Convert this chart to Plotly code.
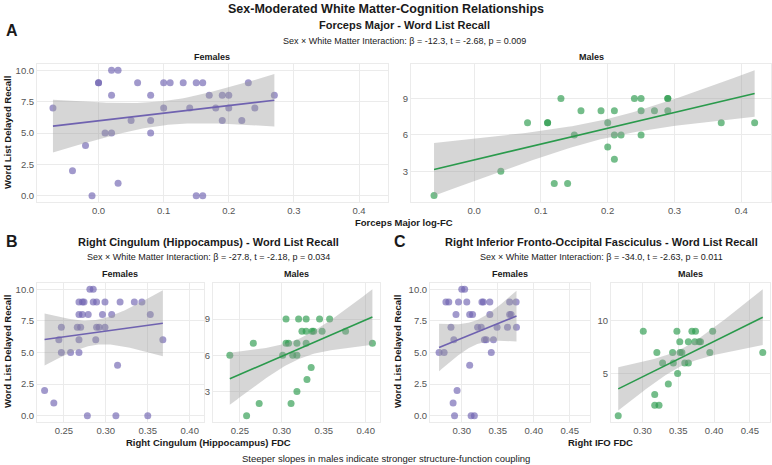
import numpy as np
import plotly.graph_objects as go

W, H = 772, 465

# ---------------- data ----------------
# Panel A: Forceps Major log-FC vs Word List Delayed Recall
a_f_x = [-0.07, -0.04, -0.02, -0.01, 0.00, 0.00, 0.01, 0.02, 0.02, 0.02, 0.03, 0.03, 0.05, 0.06,
         0.08, 0.08, 0.08, 0.10, 0.10, 0.11, 0.13, 0.14, 0.15, 0.15, 0.16, 0.16, 0.17, 0.18, 0.19,
         0.19, 0.20, 0.20, 0.22, 0.23, 0.24, 0.27]
a_f_y = [7, 2, 4, 0, 9, 9, 5, 5, 8, 10, 1, 10, 6, 9, 8, 6, 5, 9, 7, 9, 9, 7, 9, 0, 9, 0, 8, 7, 8,
         6, 8, 7, 6, 9, 7, 8]
a_m_x = [-0.06, 0.04, 0.08, 0.11, 0.11, 0.12, 0.13, 0.14, 0.15, 0.16, 0.19, 0.20, 0.20, 0.21,
         0.21, 0.21, 0.22, 0.24, 0.25, 0.25, 0.25, 0.27, 0.29, 0.29, 0.29, 0.37, 0.42]
a_m_y = [1, 3, 7, 7, 7, 2, 9, 2, 6, 8, 8, 7, 5, 8, 6, 4, 6, 9, 9, 8, 6, 8, 9, 9, 8, 7, 7]

# Panel B: Right Cingulum (Hippocampus) FDC
b_f_x = [0.227, 0.238, 0.244, 0.247, 0.247, 0.258, 0.268, 0.268, 0.266, 0.270, 0.268, 0.272,
         0.268, 0.272, 0.274, 0.279, 0.278, 0.281, 0.285, 0.285, 0.288, 0.289, 0.289, 0.292,
         0.296, 0.299, 0.299, 0.307, 0.312, 0.314, 0.317, 0.334, 0.343, 0.350, 0.353, 0.368]
b_f_y = [2, 1, 6, 7, 5, 5, 5, 6, 7, 7, 8, 8, 9, 9, 9, 8, 0, 10, 10, 9, 6, 9, 7, 7, 8, 9, 7, 8,
         0, 4, 9, 9, 9, 0, 8, 6]
b_m_x = [0.238, 0.258, 0.266, 0.273, 0.301, 0.305, 0.305, 0.308, 0.311, 0.313, 0.318, 0.318,
         0.318, 0.320, 0.324, 0.329, 0.329, 0.329, 0.330, 0.335, 0.336, 0.338, 0.345, 0.348,
         0.357, 0.376, 0.408]
b_m_y = [6, 1, 7, 2, 6, 9, 7, 7, 2, 6, 6, 7, 3, 9, 8, 9, 8, 7, 4, 5, 8, 8, 9, 8, 9, 8, 7]

# Panel C: Right IFO FDC
c_f_x = [0.2685, 0.2755, 0.278, 0.282, 0.285, 0.289, 0.288, 0.290, 0.292, 0.2935, 0.2955, 0.300,
         0.304, 0.307, 0.311, 0.311, 0.315, 0.313, 0.3175, 0.322, 0.327, 0.328, 0.330, 0.3315,
         0.334, 0.339, 0.339, 0.341, 0.344, 0.349, 0.3635, 0.3665, 0.3665, 0.3685, 0.3755, 0.376]
c_f_y = [5, 5, 9, 9, 7, 6, 1, 0, 8, 2, 9, 10, 10, 9, 4, 8, 8, 0, 0, 7, 7, 9, 9, 6, 6, 9, 8, 5,
         6, 7, 7, 9, 8, 8, 9, 7]
c_m_x = [0.266, 0.301, 0.317, 0.317, 0.323, 0.320, 0.328, 0.336, 0.342, 0.343, 0.348, 0.349,
         0.352, 0.3525, 0.355, 0.359, 0.364, 0.364, 0.369, 0.374, 0.373, 0.379, 0.381, 0.394,
         0.398, 0.468]
c_m_y = [1, 9, 3, 2, 2, 7, 6, 4, 7, 6, 9, 5, 8, 7, 7, 6, 6, 8, 9, 9, 8, 8, 8, 7, 9, 7]

# tick values / labels
a_xticks = [0.0, 0.1, 0.2, 0.3, 0.4]
b_xticks = [0.25, 0.30, 0.35, 0.40]
c_xticks = [0.30, 0.35, 0.40, 0.45]
f_yticks = [0.0, 2.5, 5.0, 7.5, 10.0]
a_m_yticks = [3, 6, 9]
b_m_yticks = [3, 6, 9]
c_m_yticks = [5, 10]

F_COL = "#6f62b0"
M_COL = "#2a9a4c"
FONT = "Liberation Sans, Arial, sans-serif"


def tcrit(df):
    z = 1.959964
    return (z + (z**3 + z) / (4 * df) + (5 * z**5 + 16 * z**3 + 3 * z) / (96 * df**2)
            + (3 * z**7 + 19 * z**5 + 17 * z**3 - 15 * z) / (384 * df**3))


def fit(x, y):
    x = np.asarray(x, float)
    y = np.asarray(y, float)
    n = len(x)
    b1, b0 = np.polyfit(x, y, 1)
    xs = np.linspace(x.min(), x.max(), 80)
    yh = b0 + b1 * xs
    res = y - (b0 + b1 * x)
    s = np.sqrt(np.sum(res**2) / (n - 2))
    sxx = np.sum((x - x.mean())**2)
    se = s * np.sqrt(1 / n + (xs - x.mean())**2 / sxx)
    t = tcrit(n - 2)
    return xs, yh, yh - t * se, yh + t * se


def hexa(c, a):
    c = c.lstrip("#")
    r, g, b = int(c[0:2], 16), int(c[2:4], 16), int(c[4:6], 16)
    return f"rgba({r},{g},{b},{a})"


def px(x0, x1):
    return [x0 / W, x1 / W]


def py(y0, y1):  # y0 top px, y1 bottom px
    return [1 - y1 / H, 1 - y0 / H]


fig = go.Figure()

panels = [
    (a_f_x, a_f_y, F_COL, 1, (37, 388), (64, 202), a_xticks, f_yticks, "{:.1f}", "{:.1f}"),
    (a_m_x, a_m_y, M_COL, 2, (411, 771), (64, 202), a_xticks, a_m_yticks, "{:.1f}", "{:d}"),
    (b_f_x, b_f_y, F_COL, 3, (37, 204), (283, 422), b_xticks, f_yticks, "{:.2f}", "{:.1f}"),
    (b_m_x, b_m_y, M_COL, 4, (213, 380), (283, 422), b_xticks, b_m_yticks, "{:.2f}", "{:d}"),
    (c_f_x, c_f_y, F_COL, 5, (430, 590), (283, 422), c_xticks, f_yticks, "{:.2f}", "{:.1f}"),
    (c_m_x, c_m_y, M_COL, 6, (611, 770), (283, 422), c_xticks, c_m_yticks, "{:.2f}", "{:d}"),
]


def xr(*xs):
    allx = np.concatenate([np.asarray(v, float) for v in xs])
    lo, hi = allx.min(), allx.max()
    e = 0.05 * (hi - lo)
    return [lo - e, hi + e]


xranges = {1: xr(a_f_x, a_m_x), 2: xr(a_f_x, a_m_x), 3: xr(b_f_x, b_m_x), 4: xr(b_f_x, b_m_x),
           5: xr(c_f_x, c_m_x), 6: xr(c_f_x, c_m_x)}

layout_axes = {}
for (x, y, col, k, xd, yd, xt, yt, xfmt, yfmt) in panels:
    xs, yh, lo, hi = fit(x, y)
    xa = "x" if k == 1 else f"x{k}"
    ya = "y" if k == 1 else f"y{k}"
    fig.add_trace(go.Scatter(x=x, y=y, mode="markers", xaxis=xa, yaxis=ya,
                             marker=dict(size=7, color=hexa(col, 0.65), line=dict(width=0)),
                             showlegend=False, hoverinfo="skip"))
    fig.add_trace(go.Scatter(x=list(xs) + list(xs[::-1]), y=list(hi) + list(lo[::-1]),
                             mode="lines", fill="toself", fillcolor="rgba(153,153,153,0.4)",
                             line=dict(width=0), xaxis=xa, yaxis=ya, showlegend=False,
                             hoverinfo="skip"))
    fig.add_trace(go.Scatter(x=xs, y=yh, mode="lines", line=dict(color=col, width=1.6),
                             xaxis=xa, yaxis=ya, showlegend=False, hoverinfo="skip"))
    ymin = min(min(y), lo.min())
    ymax = max(max(y), hi.max())
    e = 0.05 * (ymax - ymin)
    common = dict(showgrid=True, gridcolor="#ebebeb", gridwidth=1, zeroline=False,
                  showline=True, mirror=True, linecolor="#ebebeb", linewidth=1,
                  ticks="", tickfont=dict(family=FONT, size=9.5, color="#555555"))
    xkey = "xaxis" if k == 1 else f"xaxis{k}"
    ykey = "yaxis" if k == 1 else f"yaxis{k}"
    layout_axes[xkey] = dict(domain=px(*xd), range=xranges[k], anchor=ya,
                             tickvals=xt, ticktext=[xfmt.format(v) for v in xt], **common)
    layout_axes[ykey] = dict(domain=py(*yd), range=[ymin - e, ymax + e], anchor=xa,
                             tickvals=yt,
                             ticktext=[yfmt.format(int(v)) if yfmt == "{:d}" else yfmt.format(v) for v in yt],
                             **common)

fig.update_layout(**layout_axes)


def ann(text, x, y, size, bold=False, color="#1a1a1a", angle=0, xanchor="center"):
    fig.add_annotation(text=f"<b>{text}</b>" if bold else text, x=x / W, y=1 - y / H,
                       xref="paper", yref="paper", showarrow=False, textangle=angle,
                       xanchor=xanchor, yanchor="middle",
                       font=dict(family=FONT, size=size, color=color))


ann("Sex-Moderated White Matter-Cognition Relationships", 386, 9, 12.5, bold=True)
ann("A", 4, 31, 16, bold=True, xanchor="left")
ann("Forceps Major - Word List Recall", 404, 25, 11, bold=True)
ann("Sex × White Matter Interaction: β = -12.3, t = -2.68, p = 0.009", 404, 41, 9)
ann("Females", 212, 57, 9, bold=True)
ann("Males", 591, 57, 9, bold=True)
ann("Word List Delayed Recall", 7, 133, 9.5, bold=True, angle=-90)
ann("Forceps Major log-FC", 404, 222, 9.5, bold=True)

ann("B", 4, 242, 16, bold=True, xanchor="left")
ann("Right Cingulum (Hippocampus) - Word List Recall", 208, 242, 11, bold=True)
ann("Sex × White Matter Interaction: β = -27.8, t = -2.18, p = 0.034", 208, 257, 9)
ann("Females", 120, 274, 9, bold=True)
ann("Males", 296, 274, 9, bold=True)
ann("Word List Delayed Recall", 7, 352, 9.5, bold=True, angle=-90)
ann("Right Cingulum (Hippocampus) FDC", 208, 442, 9.5, bold=True)

ann("C", 392, 242, 16, bold=True, xanchor="left")
ann("Right Inferior Fronto-Occipital Fasciculus - Word List Recall", 601, 242, 11, bold=True)
ann("Sex × White Matter Interaction: β = -34.0, t = -2.63, p = 0.011", 601, 257, 9)
ann("Females", 510, 274, 9, bold=True)
ann("Males", 690, 274, 9, bold=True)
ann("Word List Delayed Recall", 397, 352, 9.5, bold=True, angle=-90)
ann("Right IFO FDC", 600, 442, 9.5, bold=True)

ann("Steeper slopes in males indicate stronger structure-function coupling", 386, 458, 9.5)

fig.update_layout(width=W, height=H, margin=dict(l=0, r=0, t=0, b=0),
                  paper_bgcolor="white", plot_bgcolor="white",
                  font=dict(family=FONT))

fig.write_html("out.html")
